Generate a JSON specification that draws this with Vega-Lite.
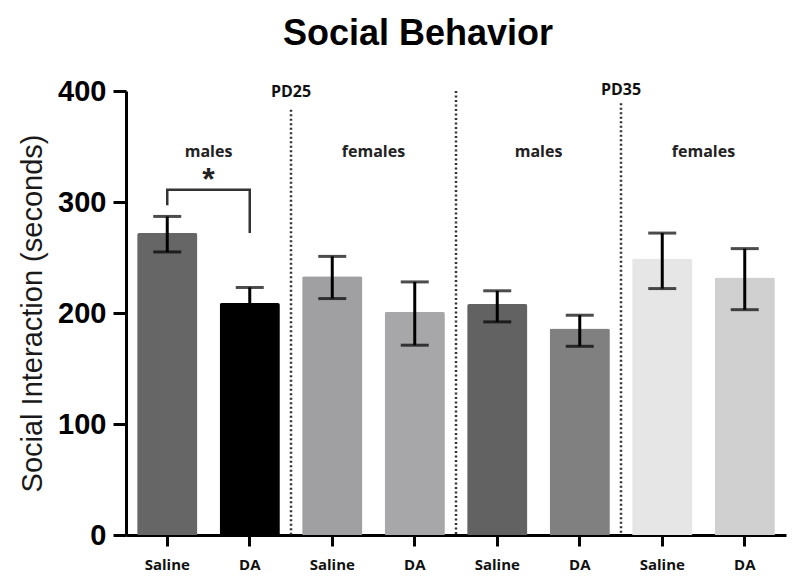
{
  "$schema": "https://vega.github.io/schema/vega-lite/v6.json",
  "autosize": "none",
  "width": 660,
  "height": 444,
  "padding": {"left": 126, "top": 91, "right": 14, "bottom": 45},
  "background": "white",
  "title": {"text": "Social  Behavior", "font": "Liberation Sans", "fontSize": 36, "fontWeight": "bold", "color": "#000", "anchor": "middle", "dx": -38, "offset": 24},
  "config": {"view": {"stroke": null}},
  "datasets": {
    "bars": [
      {"id": "Saline|m25", "mean": 272, "lo": 255, "hi": 287},
      {"id": "DA|m25", "mean": 209, "lo": 195, "hi": 223},
      {"id": "Saline|f25", "mean": 233, "lo": 213, "hi": 251},
      {"id": "DA|f25", "mean": 201, "lo": 171, "hi": 228},
      {"id": "Saline|m35", "mean": 208, "lo": 192, "hi": 220},
      {"id": "DA|m35", "mean": 186, "lo": 170, "hi": 198},
      {"id": "Saline|f35", "mean": 249, "lo": 222, "hi": 272},
      {"id": "DA|f35", "mean": 232, "lo": 203, "hi": 258}
    ],
    "dividers": [
      {"id": "DA|m25", "top": 383},
      {"id": "DA|f25", "top": 400},
      {"id": "DA|m35", "top": 389}
    ],
    "groups": [
      {"id": "Saline|m25", "label": "males", "y": 345},
      {"id": "Saline|f25", "label": "females", "y": 345},
      {"id": "Saline|m35", "label": "males", "y": 345},
      {"id": "Saline|f35", "label": "females", "y": 345}
    ],
    "ages": [
      {"id": "DA|m25", "label": "PD25", "y": 399},
      {"id": "DA|m35", "label": "PD35", "y": 401}
    ],
    "bracket": [
      {"id": "Saline|m25", "k": 1, "y": 297},
      {"id": "Saline|m25", "k": 2, "y": 311},
      {"id": "DA|m25", "k": 3, "y": 311},
      {"id": "DA|m25", "k": 4, "y": 272}
    ],
    "sig": [
      {"id": "Saline|m25", "label": "*", "y": 322}
    ]
  },
  "encoding": {
    "x": {
      "field": "id",
      "type": "nominal",
      "scale": {"domain": ["Saline|m25", "DA|m25", "Saline|f25", "DA|f25", "Saline|m35", "DA|m35", "Saline|f35", "DA|f35"], "paddingInner": 0, "paddingOuter": 0},
      "axis": {
        "title": null,
        "labelExpr": "split(datum.value, '|')[0]",
        "labelAngle": 0,
        "labelFont": "Open Sans",
        "labelFontWeight": "bold",
        "labelFontSize": 15,
        "labelColor": "#111",
        "labelPadding": 11,
        "domainColor": "#000",
        "domainWidth": 3,
        "tickColor": "#000",
        "tickWidth": 3,
        "tickSize": 11,
        "grid": false
      }
    }
  },
  "layer": [
    {
      "data": {"name": "bars"},
      "mark": {"type": "bar", "width": {"band": 0.73}, "cornerRadiusTopLeft": 2, "cornerRadiusTopRight": 2},
      "encoding": {
        "y": {
          "field": "mean",
          "type": "quantitative",
          "scale": {"domain": [0, 400], "nice": false},
          "axis": {
            "title": "Social Interaction (seconds)",
            "titleFont": "Liberation Sans",
            "titleFontSize": 29,
            "titleFontWeight": "normal",
            "titleColor": "#1a1a1a",
            "titlePadding": 10,
            "values": [0, 100, 200, 300, 400],
            "labelFont": "Liberation Sans",
            "labelFontSize": 29,
            "labelFontWeight": "bold",
            "labelColor": "#000",
            "labelPadding": 7,
            "domainColor": "#000",
            "domainWidth": 3,
            "tickColor": "#000",
            "tickWidth": 3,
            "tickSize": 13,
            "grid": false
          }
        },
        "color": {
          "field": "id",
          "type": "nominal",
          "scale": {"domain": ["Saline|m25", "DA|m25", "Saline|f25", "DA|f25", "Saline|m35", "DA|m35", "Saline|f35", "DA|f35"], "range": ["#666666", "#000000", "#a0a0a3", "#a7a7a9", "#626262", "#808080", "#e6e6e6", "#d0d0d0"]},
          "legend": null
        }
      }
    },
    {
      "data": {"name": "bars"},
      "mark": {"type": "rule", "color": "#000", "strokeWidth": 3},
      "encoding": {"y": {"field": "lo", "type": "quantitative"}, "y2": {"field": "hi"}}
    },
    {
      "data": {"name": "bars"},
      "mark": {"type": "tick", "color": "#000", "size": 28, "thickness": 3},
      "encoding": {"y": {"field": "lo", "type": "quantitative"}}
    },
    {
      "data": {"name": "bars"},
      "mark": {"type": "tick", "color": "#000", "size": 28, "thickness": 3},
      "encoding": {"y": {"field": "hi", "type": "quantitative"}}
    },
    {
      "data": {"name": "dividers"},
      "mark": {"type": "rule", "color": "#333", "strokeWidth": 2.5, "strokeDash": [2, 2.5]},
      "encoding": {
        "x": {"field": "id", "type": "nominal", "bandPosition": 1},
        "y": {"field": "top", "type": "quantitative"},
        "y2": {"datum": 0}
      }
    },
    {
      "data": {"name": "groups"},
      "mark": {"type": "text", "font": "Open Sans", "fontWeight": "bold", "fontSize": 16, "color": "#222", "baseline": "middle"},
      "encoding": {
        "x": {"field": "id", "type": "nominal", "bandPosition": 1},
        "y": {"field": "y", "type": "quantitative"},
        "text": {"field": "label"}
      }
    },
    {
      "data": {"name": "ages"},
      "mark": {"type": "text", "font": "Open Sans", "fontWeight": "bold", "fontSize": 16, "color": "#111", "baseline": "middle"},
      "encoding": {
        "x": {"field": "id", "type": "nominal", "bandPosition": 1},
        "y": {"field": "y", "type": "quantitative"},
        "text": {"field": "label"}
      }
    },
    {
      "data": {"name": "bracket"},
      "mark": {"type": "line", "color": "#333", "strokeWidth": 2.5},
      "encoding": {
        "y": {"field": "y", "type": "quantitative"},
        "order": {"field": "k"}
      }
    },
    {
      "data": {"name": "sig"},
      "mark": {"type": "text", "font": "Liberation Sans", "fontWeight": "bold", "fontSize": 32, "color": "#222", "baseline": "middle", "dy": 2},
      "encoding": {
        "x": {"field": "id", "type": "nominal", "bandPosition": 1},
        "y": {"field": "y", "type": "quantitative"},
        "text": {"field": "label"}
      }
    }
  ]
}
